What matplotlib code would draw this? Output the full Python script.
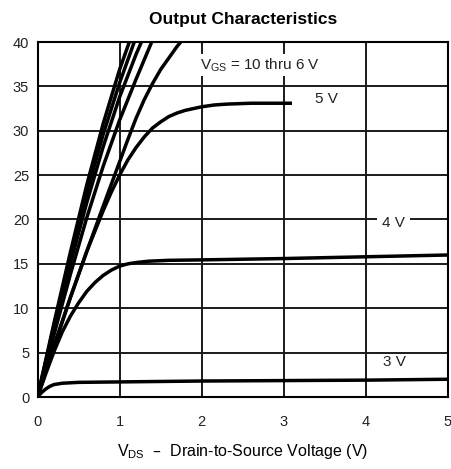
import matplotlib.pyplot as plt

plt.rcParams['font.family'] = ['Liberation Sans', 'DejaVu Sans']
plt.rcParams['mathtext.default'] = 'regular'

# drain current (A), per gate voltage
vds_10v = [0, 0.2, 0.4, 0.6, 0.8, 1.0, 1.13]
id_10v = [0, 8.3, 16.3, 23.9, 30.8, 36.9, 40.3]
vds_9v = [0, 0.2, 0.4, 0.6, 0.8, 1.0, 1.19]
id_9v = [0, 8.0, 15.7, 23.0, 29.6, 35.4, 40.3]
vds_8v = [0, 0.2, 0.4, 0.6, 0.8, 1.0, 1.2, 1.28]
id_8v = [0, 7.6, 15.0, 21.9, 28.2, 33.8, 38.6, 40.3]
vds_7v = [0, 0.2, 0.4, 0.6, 0.8, 1.0, 1.2, 1.4]
id_7v = [0, 7.0, 13.8, 20.2, 26.0, 31.2, 35.8, 40.2]
vds_6v = [0, 0.2, 0.4, 0.6, 0.8, 1.0, 1.1, 1.2, 1.3, 1.4, 1.5, 1.6, 1.7, 1.78]
id_6v = [0, 5.8, 11.2, 16.4, 21.5, 26.5, 29.0, 31.4, 33.5, 35.3, 36.9, 38.2, 39.5, 40.4]
vds_5v = [0, 0.2, 0.4, 0.6, 0.8, 0.9, 1.0, 1.1, 1.2, 1.3, 1.4, 1.5, 1.6, 1.7, 1.8, 1.9, 2.0, 2.15, 2.3, 2.6, 3.1]
id_5v = [0, 5.6, 11.2, 16.4, 21.0, 23.1, 25.0, 26.7, 28.1, 29.3, 30.3, 31.0, 31.6, 32.0, 32.3, 32.5, 32.7, 32.9, 33.0, 33.1, 33.1]
vds_4v = [0, 0.1, 0.2, 0.3, 0.4, 0.5, 0.6, 0.7, 0.8, 0.9, 1.0, 1.1, 1.2, 1.35, 1.6, 2.0, 3.0, 4.0, 5.0]
id_4v = [0, 2.6, 5.1, 7.3, 9.1, 10.6, 11.9, 12.9, 13.7, 14.3, 14.75, 15.0, 15.15, 15.3, 15.4, 15.45, 15.6, 15.8, 16.0]
vds_3v = [0, 0.05, 0.1, 0.15, 0.2, 0.3, 0.5, 1.0, 2.0, 3.0, 4.0, 5.0]
id_3v = [0, 0.5, 0.9, 1.2, 1.4, 1.55, 1.65, 1.7, 1.8, 1.85, 1.9, 2.0]

x_ticks = [0, 1, 2, 3, 4, 5]
y_ticks = [0, 5, 10, 15, 20, 25, 30, 35, 40]

fig = plt.figure(figsize=(4.51, 4.69), dpi=100)
ax = fig.add_axes([37.5 / 451, 72 / 469, 410.5 / 451, 355 / 469])

curves = [
    (vds_10v, id_10v), (vds_9v, id_9v), (vds_8v, id_8v), (vds_7v, id_7v),
    (vds_6v, id_6v), (vds_5v, id_5v), (vds_4v, id_4v), (vds_3v, id_3v),
]
for vds, ids in curves:
    ax.plot(vds, ids, color='black', linewidth=2.5, solid_capstyle='butt',
            solid_joinstyle='round', zorder=3)

ax.set_xlim(0, 5)
ax.set_ylim(0, 40)
ax.set_xticks(x_ticks)
ax.set_yticks(y_ticks)
ax.tick_params(length=0, labelsize=10.5, colors='#222222')
ax.tick_params(axis='x', pad=13)
ax.tick_params(axis='y', pad=6)
ax.grid(True, color='#1a1a1a', linewidth=1.4)
ax.set_axisbelow(True)
for spine in ax.spines.values():
    spine.set_linewidth(1.5)

box = dict(facecolor='white', edgecolor='none', pad=1.5)
ax.text(2.71, 37.4, 'V$_{GS}$ = 10 thru 6 V', ha='center', va='center',
        fontsize=11, color='#222222', bbox=box, zorder=4)
ax.text(3.52, 33.6, '5 V', ha='center', va='center', fontsize=11, color='#222222', zorder=4)
ax.text(4.34, 19.6, '4 V', ha='center', va='center', fontsize=11, color='#222222',
        bbox=dict(facecolor='white', edgecolor='none', pad=3.5), zorder=4)
ax.text(4.35, 3.9, '3 V', ha='center', va='center', fontsize=11, color='#222222', zorder=4)

ax.set_title('Output Characteristics', fontsize=12.5, fontweight='bold', pad=13)
ax.set_xlabel('V$_{DS}$  –  Drain-to-Source Voltage (V)', fontsize=11.5, labelpad=9)

plt.savefig('out.png', dpi=100)
